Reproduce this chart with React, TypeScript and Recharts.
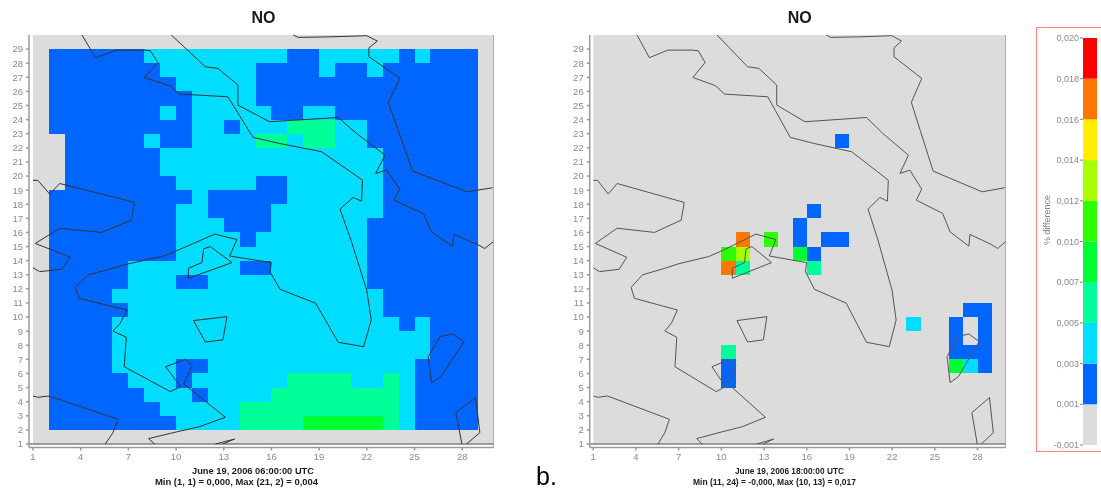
import React from "react";
import {
  ScatterChart,
  Scatter,
  BarChart,
  Bar,
  XAxis,
  YAxis,
  ReferenceArea,
  ReferenceLine,
} from "recharts";

// band colours of the legend, level 0 is "no difference"
const levelColors = [
  "#dcdcdc",
  "#0066ff",
  "#00ddff",
  "#00ff99",
  "#00ff33",
  "#2bff00",
  "#a8ff00",
  "#ffee00",
  "#ff7700",
  "#ff0000",
];
const legendLabels = ["-0,001", "0,001", "0,003", "0,005", "0,007", "0,010", "0,012", "0,014", "0,016", "0,018", "0,020"];
const legendTicks = [0, 1, 2, 3, 4, 5, 6, 7, 8, 9, 10];

const xTicks = [1, 4, 7, 10, 13, 16, 19, 22, 25, 28];
const yTicks = [1, 2, 3, 4, 5, 6, 7, 8, 9, 10, 11, 12, 13, 14, 15, 16, 17, 18, 19, 20, 21, 22, 23, 24, 25, 26, 27, 28, 29];

// left map, top row is y=28, bottom row is y=2, first char is x=2
const leftRows = [
  "111111222222222112222212111",
  "111111122222211112112111111",
  "111111112222211111111111111",
  "111111111222211111111111111",
  "111111121222221122111111111",
  "111111111221222333221111111",
  "011111211222233233221111111",
  "011111122222222222222111111",
  "011111122222222222222111111",
  "011111112222211222222111111",
  "111111111211111222222111111",
  "111111112211112222222111111",
  "111111112221112222221111111",
  "111111112222122222221111111",
  "111111112222222222221111111",
  "111112222222112222221111111",
  "111112221122222222221111111",
  "111122222222222222222111111",
  "111112222222222222222111111",
  "111122222222222222222212111",
  "111122222222222222222222111",
  "111122222222222222222222111",
  "111122221122222222222221111",
  "111112221222222333322321111",
  "111111222122223333333321111",
  "111111122222333333333321111",
  "111111112222333344444321111",
];

// right map is sparse: x, y, level
const rightCells = [
  [18, 22, 1],
  [16, 17, 1],
  [15, 16, 1],
  [11, 15, 8],
  [13, 15, 5],
  [15, 15, 1],
  [17, 15, 1],
  [18, 15, 1],
  [10, 14, 5],
  [11, 14, 6],
  [15, 14, 4],
  [16, 14, 1],
  [10, 13, 8],
  [11, 13, 3],
  [16, 13, 3],
  [27, 10, 1],
  [28, 10, 1],
  [23, 9, 2],
  [26, 9, 1],
  [28, 9, 1],
  [26, 8, 1],
  [28, 8, 1],
  [10, 7, 3],
  [26, 7, 1],
  [27, 7, 1],
  [28, 7, 1],
  [10, 6, 1],
  [26, 6, 4],
  [27, 6, 2],
  [28, 6, 1],
  [10, 5, 1],
];

// coast outlines in grid units, same for both maps
const coastMain = [
  [4.08, 30], [4.94, 28.39], [6.24, 28.93], [7.96, 28.93], [8.38, 28.88], [8.86, 28.05], [8.0, 26.99],
  [9.6, 26.4], [10.22, 25.81], [13.26, 25.62], [14.84, 22.74], [16.51, 22.31], [19.16, 21.72], [21.73, 19.71],
  [21.67, 18.22], [21.14, 18.48], [20.31, 17.65], [21.0, 15.47], [21.99, 11.92], [22.28, 9.79], [21.8, 7.9],
  [20.2, 8.21], [18.78, 10.98], [16.54, 11.97], [15.91, 13.22], [15.99, 13.86], [13.37, 14.33], [13.83, 15.5],
  [12.43, 15.88], [10.85, 15.1], [9.91, 14.64], [9.11, 14.29], [6.97, 13.77], [6.03, 13.46], [4.46, 12.99],
  [3.66, 12.11], [3.89, 11.33], [6.91, 10.5], [6.49, 9.56], [6.03, 9.01], [6.87, 8.57], [6.74, 6.48],
  [9.64, 4.71], [10.29, 5.07], [9.34, 6.48], [10.6, 7.0], [11.02, 6.56], [10.48, 5.26], [13.1, 2.89],
  [11.48, 2.23], [10.01, 1.85], [8.27, 1.38], [8.65, 1],
];
const coastEast = [
  [9.7, 30], [11.84, 27.75], [12.64, 27.63], [13.89, 26.45], [13.89, 25.03], [15.88, 23.85], [20.2, 24.15],
  [21.35, 23.02], [23.14, 21.48], [22.55, 20.18], [23.24, 20.42], [24.08, 19.07], [23.7, 18.29], [25.55, 17.35],
  [26.07, 16.04], [27.39, 15.03], [27.47, 15.86], [28.96, 15.15], [29.42, 14.86], [29.95, 15.34],
];
const coastNorth = [
  [17.37, 30], [17.69, 29.83], [19.68, 29.87], [21.99, 29.95], [22.66, 29.57], [22.13, 29.09], [22.13, 28.46],
  [24.08, 26.92], [23.35, 25.22], [24.88, 20.35], [28.32, 18.88], [29.91, 19.17],
];
const coastWest = [
  [1, 19.69], [1.31, 19.69], [2.05, 18.72], [2.68, 19.47], [7.39, 18.13], [7.18, 16.87], [5.3, 16.0],
  [2.68, 16.3], [1.15, 15.22], [3.35, 14.24], [2.82, 13.39], [1.42, 13.22], [1, 13.5],
];
const coastSouth = [[1, 4.4], [1.31, 4.31], [2.01, 4.4], [6.35, 2.75], [6.03, 1.8], [5.55, 1]];
const lakeOne = [[11.1, 9.75], [13.2, 10.03], [12.95, 8.38], [11.84, 8.23], [11.1, 9.75]];
const lakeTwo = [[10.77, 13.46], [10.77, 12.75], [13.52, 13.86], [12.15, 15.0], [11.73, 14.83], [11.63, 13.86], [10.77, 13.46]];
const islandOne = [[26.6, 8.61], [27.39, 8.8], [28.11, 8.26], [26.66, 5.78], [26.07, 5.35], [25.86, 7.19], [26.6, 8.61]];
const islandTwo = [[27.98, 1], [27.6, 3.22], [28.84, 4.29], [29.11, 1.8], [28.27, 1]];
const sliver = [[12.49, 1], [13.68, 1.35], [12.95, 1]];
const coasts = [coastMain, coastEast, coastNorth, coastWest, coastSouth, lakeOne, lakeTwo, islandOne, islandTwo, sliver];

const leftCells = leftRows.flatMap((row, r) =>
  row.split("").map((ch, c) => [c + 2, 28 - r, Number(ch)])
);

const font = "'Liberation Sans', Arial, sans-serif";
const tickStyle = { fontSize: 9.5, fill: "#8a8a8a", fontFamily: font };
const plotTop = 35;
const plotBottom = 42.5;
const chartHeight = 490;
const noDot = () => <g />;

type MapProps = {
  left: number;
  width: number;
  axisWidth: number;
  cells: number[][];
  coastColor: string;
};

const MapPanel = ({ left, width, axisWidth, cells, coastColor }: MapProps) => {
  const cellW = (width - axisWidth) / 29.25;
  const cellH = (chartHeight - plotTop - plotBottom) / 29.25;
  const cellData = cells
    .filter((c) => c[2] > 0)
    .map((c) => ({ x: c[0] + 0.5, y: c[1] + 0.5, level: c[2] }));
  const cellShape = (p: any) => (
    <rect
      x={p.cx - cellW / 2}
      y={p.cy - cellH / 2}
      width={cellW}
      height={cellH}
      fill={levelColors[p.payload.level]}
      shapeRendering="crispEdges"
    />
  );
  return (
    <div style={{ position: "absolute", left, top: 0 }}>
      <ScatterChart
        width={width}
        height={chartHeight}
        margin={{ top: plotTop, right: 0, bottom: plotBottom - 30, left: 0 }}
      >
        <XAxis
          type="number"
          dataKey="x"
          domain={[0.75, 30]}
          ticks={xTicks}
          interval={0}
          height={30}
          tick={tickStyle}
          tickSize={3}
          tickMargin={3}
          stroke="#9a9a9a"
          strokeWidth={1.5}
        />
        <YAxis
          type="number"
          dataKey="y"
          domain={[0.75, 30]}
          ticks={yTicks}
          interval={0}
          width={axisWidth}
          tick={tickStyle}
          tickSize={3}
          tickMargin={3}
          stroke="#9a9a9a"
          strokeWidth={1.5}
        />
        <ReferenceArea x1={1} x2={30} y1={1} y2={30} fill="#dcdcdc" fillOpacity={1} stroke="none" />
        <ReferenceLine y={1} stroke="#808080" strokeWidth={1.5} />
        <ReferenceLine x={30} stroke="#a0a0a0" strokeWidth={1.5} />
        <Scatter data={cellData} shape={cellShape} isAnimationActive={false} />
        {coasts.map((line, i) => (
          <Scatter
            key={i}
            data={line.map((p) => ({ x: p[0], y: p[1] }))}
            line={{ stroke: coastColor, strokeWidth: 1 }}
            shape={noDot}
            isAnimationActive={false}
          />
        ))}
      </ScatterChart>
    </div>
  );
};

const legendRow = [
  { name: "difference", ...Object.fromEntries(levelColors.map((_, i) => ["band" + i, 1])) },
];

const Legend = () => (
  <div style={{ position: "absolute", left: 1036, top: 0 }}>
    <BarChart
      width={61}
      height={chartHeight}
      data={legendRow}
      barCategoryGap={0}
      margin={{ top: 38, right: 0, bottom: 45, left: 0 }}
    >
      <XAxis hide type="category" dataKey="name" />
      <YAxis
        type="number"
        domain={[0, 10]}
        ticks={legendTicks}
        interval={0}
        width={47}
        axisLine={false}
        tick={{ ...tickStyle, fontSize: 9 }}
        tickSize={3}
        tickMargin={1}
        stroke="#808080"
        tickFormatter={(v: number) => legendLabels[v]}
      />
      {levelColors.map((color, i) => (
        <Bar key={i} dataKey={"band" + i} stackId="legend" fill={color} isAnimationActive={false} />
      ))}
    </BarChart>
  </div>
);

export default function App() {
  return (
    <div
      style={{
        position: "absolute",
        left: 0,
        top: 0,
        width: 1101,
        height: 490,
        overflow: "hidden",
        background: "#ffffff",
        filter: "blur(0.4px)",
      }}
    >
      <div
        style={{
          position: "absolute",
          left: 1036,
          top: 27,
          width: 65,
          height: 425,
          borderTop: "1.5px solid #ff8080",
          borderLeft: "1.5px solid #ff8080",
          borderBottom: "1.5px solid #ff8080",
          boxSizing: "border-box",
        }}
      />
      <MapPanel left={0} width={494} axisWidth={29} cells={leftCells} coastColor="#333333" />
      <MapPanel left={560} width={446} axisWidth={29.7} cells={rightCells} coastColor="#555555" />
      <Legend />
      <svg width={1101} height={490} style={{ position: "absolute", left: 0, top: 0 }} fontFamily={font}>
        <text x={263.5} y={22.5} textAnchor="middle" fontSize={16} fontWeight="bold" fill="#1a1a1a">NO</text>
        <text x={799.7} y={22.5} textAnchor="middle" fontSize={16} fontWeight="bold" fill="#1a1a1a">NO</text>
        <text x={192} y={474} fontSize={8.5} fontWeight="bold" fill="#1a1a1a" textLength={122} lengthAdjust="spacingAndGlyphs">
          June 19, 2006 06:00:00 UTC
        </text>
        <text x={155} y={485} fontSize={8.5} fontWeight="bold" fill="#1a1a1a" textLength={163} lengthAdjust="spacingAndGlyphs">
          Min (1, 1) = 0,000, Max (21, 2) = 0,004
        </text>
        <text x={735} y={474} fontSize={8.5} fontWeight="bold" fill="#1a1a1a" textLength={109} lengthAdjust="spacingAndGlyphs">
          June 19, 2006 18:00:00 UTC
        </text>
        <text x={693} y={485} fontSize={8.5} fontWeight="bold" fill="#1a1a1a" textLength={163} lengthAdjust="spacingAndGlyphs">
          Min (11, 24) = -0,000, Max (10, 13) = 0,017
        </text>
        <text x={536} y={484.5} fontSize={25} fill="#000000">b.</text>
        <text
          x={1050}
          y={220}
          textAnchor="middle"
          fontSize={9}
          fill="#808080"
          transform="rotate(-90 1050 220)"
        >
          % difference
        </text>
      </svg>
    </div>
  );
}
